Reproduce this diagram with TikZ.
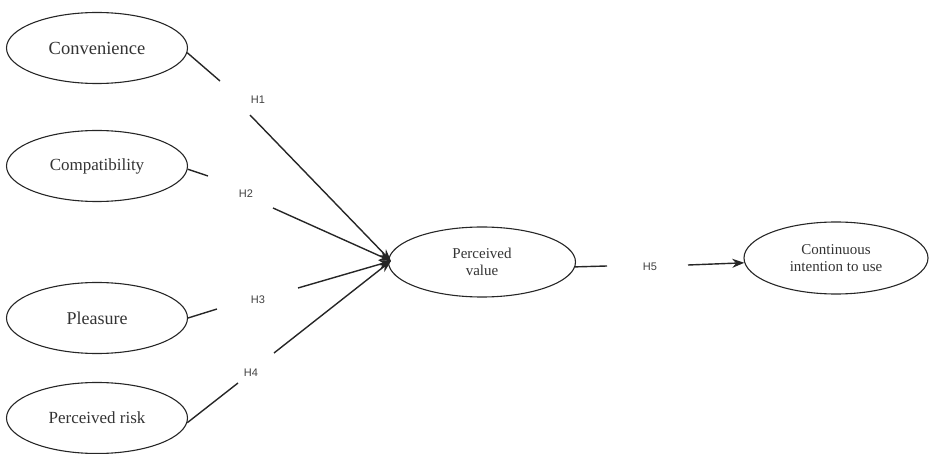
\documentclass[tikz,border=0pt]{standalone}
\usepackage{fontspec}
\setmainfont{Liberation Serif}
\newfontfamily\labfont{Liberation Sans}
\usetikzlibrary{shapes.geometric,arrows.meta}
\begin{document}
\begin{tikzpicture}[x=1pt,y=-1pt,
  construct/.style={ellipse,draw=black!85,line width=1.1pt,inner sep=0pt,
    minimum width=181pt,minimum height=71pt,text=black!80,align=center,
    font=\fontsize{17}{17}\selectfont},
  small/.style={font=\fontsize{15}{17}\selectfont},
  hyp/.style={inner sep=1pt,text=black!75,font=\labfont\fontsize{11}{13}\selectfont},
  link/.style={draw=black!85,line width=1.4pt},
  arr/.style={link,-{Stealth[length=12pt,width=9pt]}}]
\useasboundingbox (0,0) rectangle (929,454);
% constructs
\node[construct] (conv) at (97,48) {\fontsize{18.5}{18.5}\selectfont Convenience};
\node[construct] (comp) at (97,166) {Compatibility};
\node[construct] (plea) at (97,318) {\fontsize{18}{18}\selectfont Pleasure};
\node[construct] (risk) at (97,418) {Perceived risk};
\node[construct,small,minimum width=187pt,minimum height=70pt] (pv) at (482,262) {Perceived\\value};
\node[construct,small,minimum width=184pt,minimum height=72pt] (ci) at (836,258) {Continuous\\intention to use};
% hypothesis labels
\node[hyp] (h1) at (258,100) {H1};
\node[hyp] (h2) at (246,194) {H2};
\node[hyp] (h3) at (258,300) {H3};
\node[hyp] (h4) at (251,373) {H4};
\node[hyp] (h5) at (650,267) {H5};
% gap ends
\coordinate (h1a) at (220,81);  \coordinate (h1b) at (250,115);
\coordinate (h2a) at (208,176); \coordinate (h2b) at (273,208);
\coordinate (h3a) at (217,309); \coordinate (h3b) at (298,288);
\coordinate (h4a) at (238,383); \coordinate (h4b) at (274,353);
\coordinate (h5a) at (607,266); \coordinate (h5b) at (688,265);
\coordinate (tip) at (391,261);
% connectors
\draw[link] (conv.-3) -- (h1a);
\draw[arr] (h1b) -- (tip);
\draw[link] (comp.-2) -- (h2a);
\draw[arr] (h2b) -- (tip);
\draw[link] (plea.east) -- (h3a);
\draw[arr] (h3b) -- (tip);
\draw[link] (risk.-3) -- (h4a);
\draw[arr] (h4b) -- (tip);
\draw[link] (pv.-3) -- (h5a);
\draw[arr] (h5b) -- (ci.183);
\end{tikzpicture}
\end{document}
